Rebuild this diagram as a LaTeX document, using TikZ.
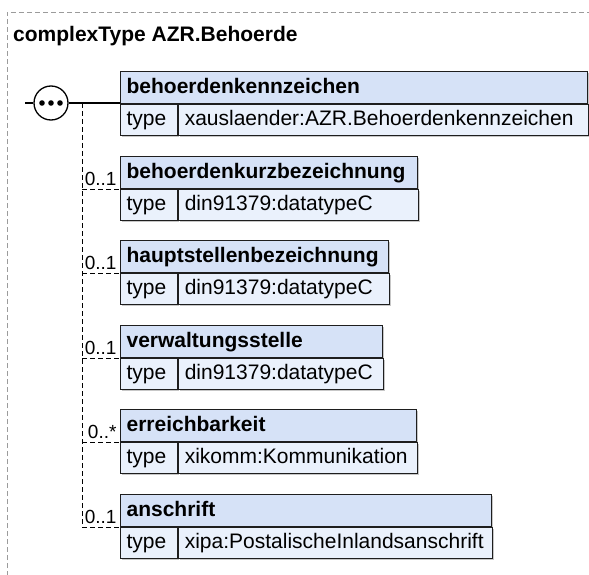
\documentclass[tikz,border=0pt]{standalone}
\usepackage{fontspec}
\setmainfont{Liberation Sans}
\usetikzlibrary{calc,shadows}
\definecolor{headBlue}{RGB}{214,226,247}
\definecolor{rowBlue}{RGB}{234,241,252}
\definecolor{frameGray}{RGB}{155,155,155}
\definecolor{lineDark}{RGB}{30,30,30}

\tikzset{
  cell/.style={draw=lineDark, line width=1.2pt, rectangle, anchor=north west,
    inner xsep=6pt, inner ysep=2pt, align=left,
    text height=15pt, text depth=4pt,
    font=\fontsize{21}{24}\selectfont,
    drop shadow={shadow xshift=1.6pt, shadow yshift=-1.6pt, fill=black, opacity=.22}},
  elhead/.style={cell, fill=headBlue, minimum height=32pt, font=\fontsize{21}{24}\selectfont\bfseries},
  eltype/.style={cell, fill=rowBlue, minimum height=31pt, text width=45pt},
  elvalue/.style={cell, fill=rowBlue, minimum height=31pt},
  mult/.style={anchor=base east, inner sep=0pt, xshift=-3pt, yshift=3.5pt,
    font=\fontsize{19}{21}\selectfont},
  optline/.style={draw=black, line width=1pt, dash pattern=on 5pt off 3pt},
  seqcircle/.style={draw=black, circle, line width=1.3pt, fill=white, minimum size=34pt, inner sep=0pt}
}

\begin{document}
\begin{tikzpicture}[x=1pt, y=-1pt]
  \useasboundingbox (0,0) rectangle (589,575);
  % outer frame of the complex type
  \draw[frameGray, line width=0.9pt, dash pattern=on 5pt off 3pt] (7,600) |- (610,12);
  \node[anchor=base west, inner sep=0pt, font=\fontsize{21}{24}\selectfont\bfseries] (title) at (13,42) {complexType AZR.Behoerde};

  % sequence compositor
  \coordinate (seqin) at (25,103);
  \node[seqcircle] (seq) at (51,103) {};
  \foreach \dx in {-9,0,9}
    \fill ($(seq.center)+(\dx,0)$) circle (2.8pt);
  \coordinate (branch) at (82,103);

  % elements
  \node[elhead, text width=455pt] (kennz) at (120,71) {behoerdenkennzeichen};
  \node[eltype] (kennzT) at (kennz.south west) {type};
  \node[elvalue, text width=398pt] (kennzV) at (kennzT.north east) {xauslaender:AZR.Behoerdenkennzeichen};

  \node[elhead, text width=285pt] (kurz) at (120,156) {behoerdenkurzbezeichnung};
  \node[eltype] (kurzT) at (kurz.south west) {type};
  \node[elvalue, text width=228pt] (kurzV) at (kurzT.north east) {din91379:datatypeC};

  \node[elhead, text width=256pt] (haupt) at (120,240) {hauptstellenbezeichnung};
  \node[eltype] (hauptT) at (haupt.south west) {type};
  \node[elvalue, text width=199pt] (hauptV) at (hauptT.north east) {din91379:datatypeC};

  \node[elhead, text width=250pt] (verw) at (120,325) {verwaltungsstelle};
  \node[eltype] (verwT) at (verw.south west) {type};
  \node[elvalue, text width=193pt] (verwV) at (verwT.north east) {din91379:datatypeC};

  \node[elhead, text width=284pt] (erreich) at (120,409) {erreichbarkeit};
  \node[eltype] (erreichT) at (erreich.south west) {type};
  \node[elvalue, text width=227pt] (erreichV) at (erreichT.north east) {xikomm:Kommunikation};

  \node[elhead, text width=359pt] (anschr) at (120,494) {anschrift};
  \node[eltype] (anschrT) at (anschr.south west) {type};
  \node[elvalue, text width=302pt] (anschrV) at (anschrT.north east) {xipa:PostalischeInlandsanschrift};

  % connectors
  \draw[line width=1.3pt] (seqin) -- (seq.west);
  \draw[line width=1.3pt] (seq.east) -- (seq.east -| kennz.south west);
  \draw[optline] (branch) -- (branch |- anschr.south west);
  \draw[optline] (branch |- kurz.south west) -- (kurz.south west) node[mult] {0..1};
  \draw[optline] (branch |- haupt.south west) -- (haupt.south west) node[mult] {0..1};
  \draw[optline] (branch |- verw.south west) -- (verw.south west) node[mult] {0..1};
  \draw[optline] (branch |- erreich.south west) -- (erreich.south west) node[mult] {0..*};
  \draw[optline] (branch |- anschr.south west) -- (anschr.south west) node[mult] {0..1};
\end{tikzpicture}
\end{document}
